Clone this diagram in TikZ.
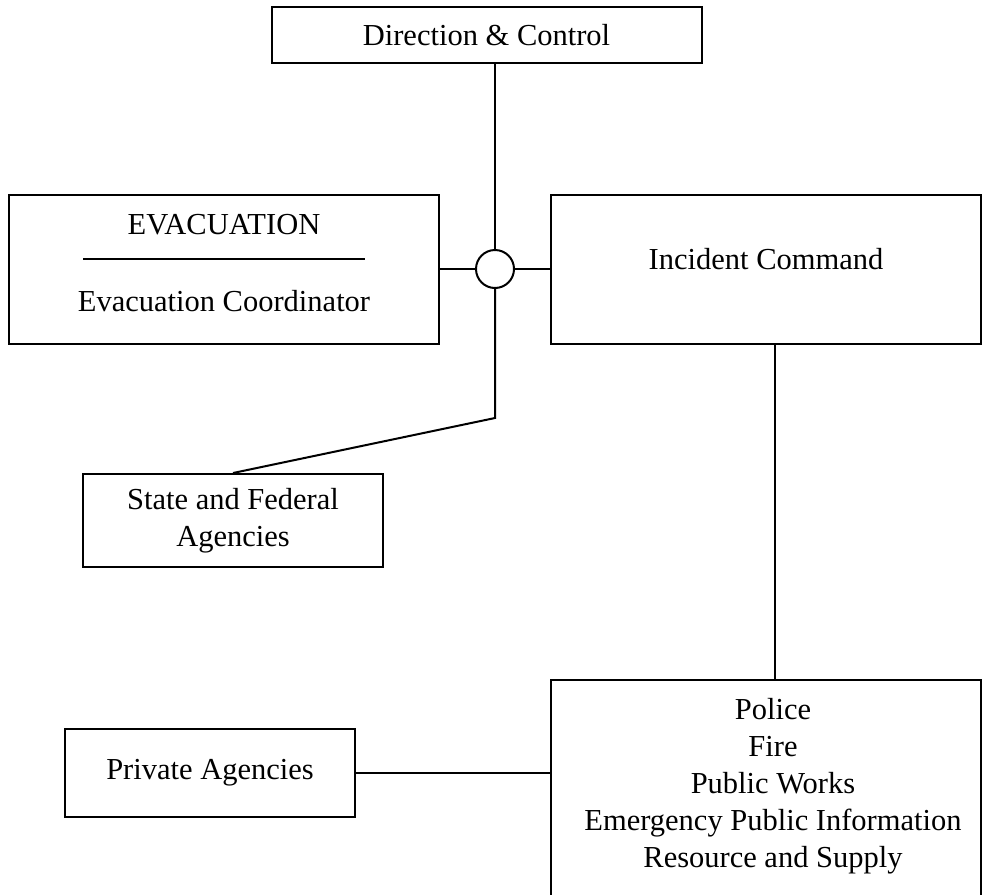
\documentclass[tikz,border=0pt]{standalone}
\usepackage{fontspec}
\setmainfont{Liberation Serif}
\usetikzlibrary{positioning,calc}

\begin{document}
\begin{tikzpicture}[x=1pt,y=-1pt,
    box/.style={rectangle,draw,line width=2pt,inner sep=0pt},
    label/.style={font=\fontsize{30.5}{37}\selectfont,align=center,inner sep=0pt},
    link/.style={line width=2pt}]
    \clip (0,0) rectangle (987,894);

    % Top
    \node[box,label,minimum width=430,minimum height=56] (dc) at (486.5,35) {Direction \& Control};

    % Hub
    \node[circle,draw,line width=2pt,minimum size=38,inner sep=0pt] (hub) at (495,269) {};
    \draw[link] (dc.south -| hub.north) -- (hub.north);

    % Evacuation
    \node[box,minimum width=430,minimum height=149] (evac) at (223.5,269) {};
    \node[label] (evactitle) at (224,225) {EVACUATION};
    \node[label] (evaccoord) at (224,301) {Evacuation Coordinator};
    \draw[link] (83,259) -- (365,259);
    \draw[link] (evac.east) -- (hub.west);

    % Incident Command
    \node[box,minimum width=430,minimum height=149] (ic) at (766,269) {};
    \node[label] (ictext) at (766,259) {Incident Command};
    \draw[link] (hub.east) -- (ic.west);

    % State and Federal
    \node[box,label,minimum width=300,minimum height=93] (state) at (233,520.5) {State and Federal\\Agencies};
    \coordinate (bend) at (495,418);
    \draw[link] (hub.south) -- (bend) -- (state.north);

    % Services
    \node[box,minimum width=430,minimum height=260] (services) at (766,810) {};
    \node[label] (servtext) at (773,786) {Police\\Fire\\Public Works\\Emergency Public Information\\Resource and Supply};
    \draw[link] ([xshift=9]ic.south) -- ([xshift=9]ic.south |- services.north);

    % Private
    \node[box,label,minimum width=290,minimum height=88] (private) at (210,773) {Private Agencies};
    \draw[link] (private.east) -- (private.east -| services.west);
\end{tikzpicture}
\end{document}
